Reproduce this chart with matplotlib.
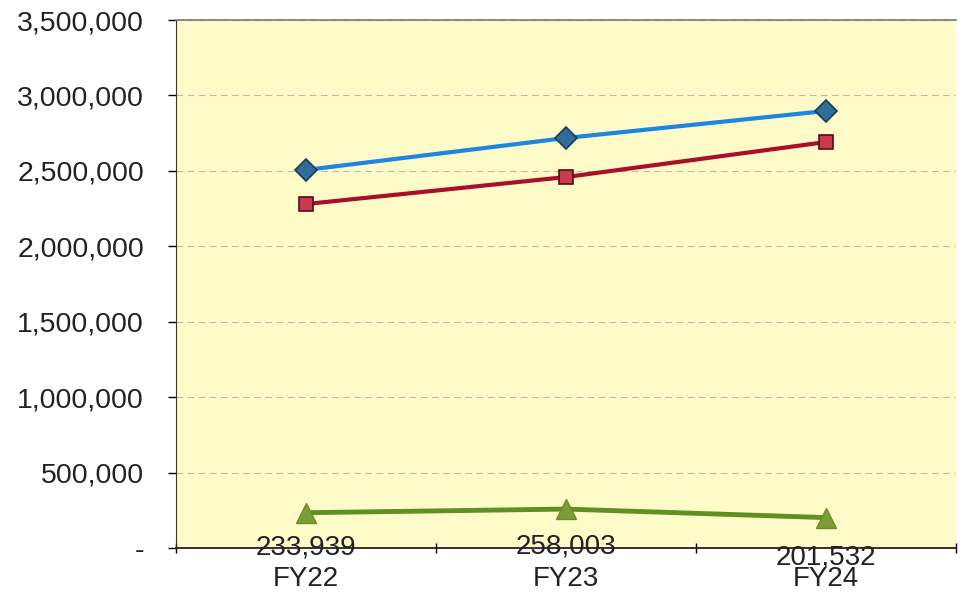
import matplotlib
matplotlib.use("Agg")
import matplotlib.pyplot as plt
from matplotlib.ticker import FuncFormatter

categories = ["FY22", "FY23", "FY24"]
series_blue = [2506000, 2718000, 2897000]
series_red = [2280000, 2459000, 2691000]
series_green = [233939, 258003, 201532]
green_labels = ["233,939", "258,003", "201,532"]
yticks = [0, 500000, 1000000, 1500000, 2000000, 2500000, 3000000, 3500000]

plt.rcParams['font.family'] = ['Liberation Sans', 'DejaVu Sans']

fig = plt.figure(figsize=(9.65, 5.95), dpi=100)
ax = fig.add_axes([176/965, 1 - 548/595, (956-176)/965, (548-20)/595])
ax.set_facecolor('#FFFBC8')

x = list(range(len(categories)))
ax.plot(x, series_blue, color='#1C86E0', lw=3, marker='D', ms=11,
        mfc='#2E6E98', mec='#1A3A55', mew=1.2, zorder=4)
ax.plot(x, series_red, color='#A80F2A', lw=3, marker='s', ms=10,
        mfc='#C83A4E', mec='#5A0A15', mew=1.2, zorder=4)
ax.plot(x, series_green, color='#5E9022', lw=3.5, marker='^', ms=14,
        mfc='#7A9E35', mec='#6A8E2A', mew=1, zorder=4)

offsets = [-35, -37, -40]
for xi, v, lab, off in zip(x, series_green, green_labels, offsets):
    ax.annotate(lab, (xi, v), xytext=(0, off*0.72), textcoords='offset points',
                ha='center', va='center', fontsize=20, color='#222222', zorder=5)

ax.set_xlim(-0.5, 2.5)
ax.set_ylim(0, 3500000)
ax.set_yticks(yticks)
ax.yaxis.set_major_formatter(FuncFormatter(lambda v, p: '-' if v == 0 else f'{int(v):,}'))
ax.set_xticks(x)
ax.set_xticklabels(categories)
ax.set_xticks([-0.5, 0.5, 1.5, 2.5], minor=True)
ax.tick_params(axis='x', which='major', length=0, pad=13, labelsize=20, labelcolor='#222222')
ax.tick_params(axis='x', which='minor', length=7, direction='inout', width=1)
ax.tick_params(axis='y', length=6, width=1, labelsize=20.5, pad=17, labelcolor='#222222')

ax.grid(axis='y', color='#BBBBAA', linestyle=(0, (6, 4)), lw=0.8)
ax.set_axisbelow(True)
ax.spines['right'].set_visible(False)
ax.spines['top'].set_color('#777777')
ax.spines['top'].set_linewidth(1.2)
ax.spines['left'].set_color('#333333')
ax.spines['bottom'].set_color('#222222')
ax.spines['bottom'].set_linewidth(1.3)

fig.savefig('out.png', dpi=100, facecolor='white')
